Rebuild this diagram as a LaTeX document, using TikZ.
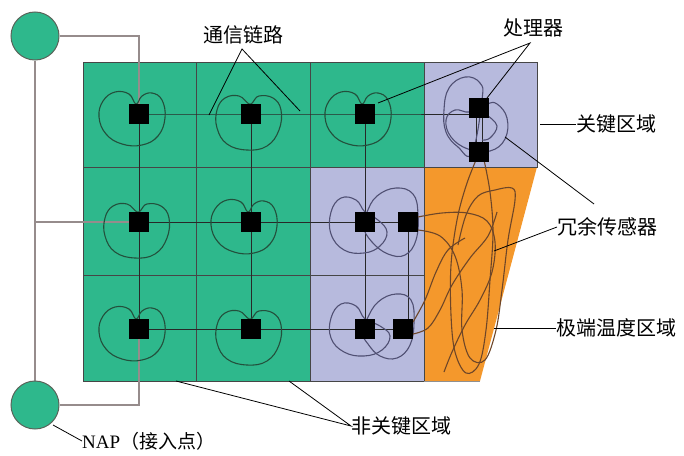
\documentclass[tikz,border=0pt]{standalone}
\usepackage{fontspec}
\setmainfont{Liberation Serif}
\newfontfamily\cjk{Noto Sans CJK SC}
\definecolor{cgreen}{RGB}{46,184,140}
\definecolor{clav}{RGB}{183,186,221}
\definecolor{corange}{RGB}{244,152,44}
\definecolor{gridc}{RGB}{70,70,70}
\definecolor{linkc}{RGB}{40,40,40}
\definecolor{napc}{RGB}{150,140,140}
\definecolor{napedge}{RGB}{90,100,90}
\definecolor{sqg}{RGB}{35,80,60}
\definecolor{sql}{RGB}{80,80,115}
\definecolor{sqo}{RGB}{110,70,40}
\pgfdeclarelayer{bg}
\pgfdeclarelayer{mid}
\pgfsetlayers{bg,mid,main}
\begin{document}
\begin{tikzpicture}[x=1pt,y=-1pt,
  proc/.style={fill=black, minimum size=20pt, inner sep=0pt, draw=none},
  nap/.style={circle, fill=cgreen, draw=napedge, line width=1pt, minimum size=48pt, inner sep=0pt},
  link/.style={draw=linkc, line width=1pt},
  naplink/.style={draw=napc, line width=1.4pt},
  cell/.style={draw=gridc, line width=0.9pt},
  sq/.style={line width=1.1pt},
  leader/.style={draw=black, line width=0.8pt},
  lbl/.style={font=\cjk\fontsize{20}{24}\selectfont, inner sep=0pt},
  heart/.pic={\draw[sq, draw=sqg] plot[smooth cycle, tension=0.7] coordinates {(-3,-10) (-10,-20) (-24,-22) (-36,-13) (-40,3) (-33,20) (-17,30) (3,31) (19,22) (26,4) (23,-14) (13,-21) (3,-18)};},
  heartb/.pic={\draw[sq, draw=sqg] plot[smooth cycle, tension=0.7] coordinates {(-2,-10) (-12,-18) (-26,-16) (-34,-4) (-34,14) (-24,30) (-4,36) (16,32) (28,16) (30,-4) (22,-16) (8,-18) (2,-12)};}
]
\useasboundingbox (0,0) rectangle (684,455);

% processors
\node[proc] (p11) at (139,114) {};
\node[proc] (p12) at (251,114) {};
\node[proc] (p13) at (365,114) {};
\node[proc] (p14) at (479,108) {};
\node[proc] (p14b) at (479,152) {};
\node[proc] (p21) at (139,222) {};
\node[proc] (p22) at (251,222) {};
\node[proc] (p23) at (365,222) {};
\node[proc] (p23b) at (408,222) {};
\node[proc] (p31) at (139,329) {};
\node[proc] (p32) at (251,329) {};
\node[proc] (p33) at (365,329) {};
\node[proc] (p33b) at (403,329) {};

% NAP
\node[nap] (napT) at (35,36) {};
\node[nap] (napB) at (35,405) {};

% regions
\begin{pgfonlayer}{bg}
\fill[cgreen] (83,62) rectangle (424,381);
\fill[clav] (424,62) rectangle (537,167);
\fill[clav] (310,167) rectangle (424,381);
\fill[corange] (424,167) -- (537,167) -- (480,381) -- (424,381) -- cycle;
\draw[cell] (83,62) rectangle (424,381);
\draw[cell] (424,62) rectangle (537,167);
\draw[cell] (196,62) -- (196,381) (310,62) -- (310,381) (83,167) -- (424,167) (83,275) -- (424,275);
\draw[draw=gridc!60, line width=0.6pt] (424,381) -- (480,381);
\end{pgfonlayer}

\begin{pgfonlayer}{mid}
% NAP links
\draw[naplink] (napT) -- (napT -| p11.center) -- (p11.center);
\draw[naplink] (p31.center) -- (p31.center |- napB) -- (napB);
\draw[naplink] (napT) -- (napB);
\coordinate (j2) at (napT.south |- p21.center);
\draw[naplink] (j2) -- (p21.center);
% communication links
\draw[link] (p11.center) -- (p13.center) -- (p13.center -| p14.center);
\draw[link] (p11.center) -- (p31.center);
\draw[link] (p12.center) -- (p32.center);
\draw[link] (p13.center) -- (p33.center);
\draw[link] (p23b.center) -- (p23b.center |- p33b.center) -- (p33b.center);
\draw[link] (p21.center) -- (p23b.center);
\draw[link] (p31.center) -- (p33b.center);
\draw[link] ([xshift=-3pt]p14.center) -- ([xshift=-3pt]p14b.center);
\draw[link] ([xshift=3pt]p14.center) -- ([xshift=3pt]p14b.center);

% coverage loops, green cells
\pic at (p11) {heart};
\pic at (p12) {heartb};
\pic at (p13) {heart};
\pic at (p21) {heartb};
\pic at (p22) {heart};
\pic at (p31) {heart};
\pic at (p32) {heartb};

% lavender loops
\begin{scope}[sq, draw=sql]
\draw plot[smooth cycle, tension=0.7] coordinates {(365,212) (356,200) (341,198) (331,212) (331,234) (344,250) (364,253) (380,246) (387,232) (378,220)};
\draw plot[smooth cycle, tension=0.7] coordinates {(367,212) (377,196) (396,188) (413,194) (418,214) (416,240) (405,255) (388,254) (372,242) (363,226)};
\draw plot[smooth cycle, tension=0.7] coordinates {(365,319) (356,306) (341,304) (331,318) (331,338) (344,352) (364,356) (382,350) (390,336) (380,326)};
\draw plot[smooth cycle, tension=0.7] coordinates {(367,319) (378,302) (396,294) (411,300) (414,322) (410,345) (397,358) (380,356) (368,344) (362,332)};
\draw plot[smooth cycle, tension=0.7] coordinates {(482,100) (480,83) (465,77) (449,88) (444,110) (446,132) (458,147) (472,153)};
\draw plot[smooth cycle, tension=0.7] coordinates {(470,112) (455,110) (446,120) (451,137) (468,149) (490,151) (505,139) (507,118) (497,104) (487,104)};
\draw plot[smooth, tension=0.7] coordinates {(488,116) (497,126) (490,138) (482,140)};
\end{scope}

% orange tangle
\begin{scope}[sq, draw=sqo]
\draw plot[smooth, tension=0.6] coordinates {(476,160) (466,186) (457,220) (451,265) (451,315) (455,352) (466,373) (479,364) (486,330) (490,280) (493,232) (490,192) (484,160)};
\draw plot[smooth, tension=0.6] coordinates {(418,217) (442,213) (467,213) (487,221) (495,242) (492,272) (480,300) (465,325) (452,352) (444,372)};
\draw plot[smooth, tension=0.6] coordinates {(418,230) (440,236) (455,256) (462,290) (462,330) (470,358) (485,360) (496,330) (502,290) (508,240) (515,200) (512,188) (495,190) (478,196) (466,215) (458,245)};
\draw plot[smooth, tension=0.6] coordinates {(413,334) (428,328) (440,310) (452,285) (470,258) (488,236) (497,212)};
\draw plot[smooth, tension=0.6] coordinates {(413,322) (425,300) (436,272) (448,250) (465,238)};
\end{scope}
\end{pgfonlayer}

% labels
\node[lbl] (lcomm) at (243,35) {通信链路};
\node[lbl] (lproc) at (533,28) {处理器};
\node[lbl, anchor=west] (lkey) at (576,124) {关键区域};
\node[lbl, anchor=west] (lred) at (557,227) {冗余传感器};
\node[lbl, anchor=west] (lext) at (556,328) {极端温度区域};
\node[lbl, anchor=west] (lnon) at (351,426) {非关键区域};
\node[anchor=west, inner sep=0pt, font=\fontsize{19}{22}\selectfont] (lnap) at (82,441) {NAP{\cjk（接入点）}};

% leader lines
\coordinate (c1) at (209,115);
\coordinate (c2) at (300,111);
\coordinate (c0) at (242,49);
\draw[leader] (c1) -- (c0) -- (c2);
\coordinate (pr0) at (530,43);
\coordinate (pr1) at (378,103);
\coordinate (pr2) at (487,98);
\draw[leader] (pr1) -- (pr0) -- (pr2);
\coordinate (k1) at (540,124);
\draw[leader] (k1) -- (lkey.west);
\coordinate (r1) at (505,137);
\coordinate (r2) at (594,204);
\draw[leader] (r1) -- (r2);
\coordinate (r3) at (494,251);
\draw[leader] (r3) -- (lred.west);
\coordinate (e1) at (494,328);
\draw[leader] (e1) -- (lext.west);
\coordinate (n1) at (176,381);
\coordinate (n2) at (289,381);
\draw[leader] (n1) -- (lnon.west) -- (n2);
\coordinate (a1) at (53,425);
\draw[leader] (a1) -- (lnap.west);
\end{tikzpicture}
\end{document}
